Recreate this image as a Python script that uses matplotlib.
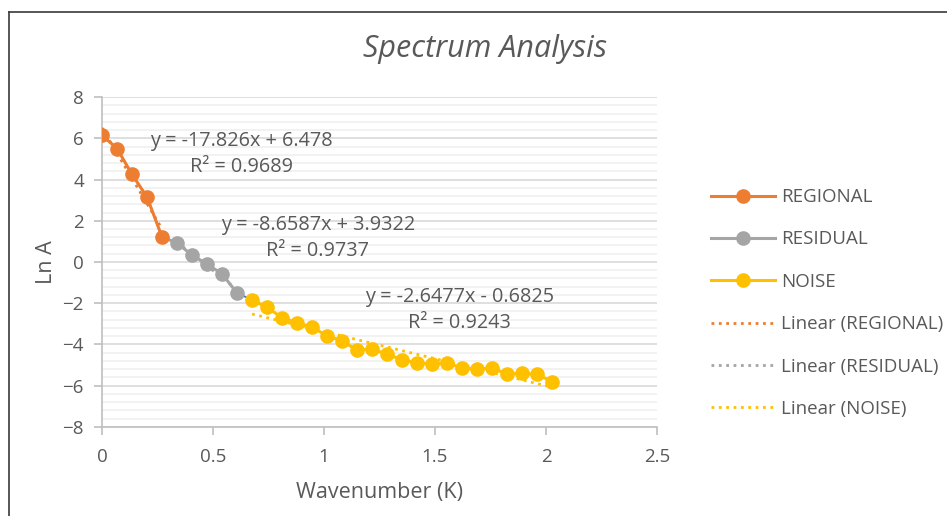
import numpy as np
import matplotlib
matplotlib.use("Agg")
import matplotlib.pyplot as plt
from matplotlib.lines import Line2D
from matplotlib.ticker import MultipleLocator

plt.rcParams['font.family'] = ['Open Sans', 'DejaVu Sans']

# data
x_regional = [0.0, 0.068, 0.135, 0.203, 0.27]
y_regional = [6.15, 5.5, 4.25, 3.15, 1.22]

x_residual = [0.338, 0.405, 0.473, 0.541, 0.608]
y_residual = [0.92, 0.34, -0.1, -0.58, -1.5]

x_noise = [0.676, 0.744, 0.811, 0.879, 0.946, 1.014, 1.082, 1.149, 1.217, 1.284,
           1.352, 1.42, 1.487, 1.555, 1.622, 1.69, 1.758, 1.825, 1.893, 1.96, 2.028]
y_noise = [-1.84, -2.2, -2.7, -2.95, -3.16, -3.58, -3.83, -4.27, -4.23, -4.46,
           -4.75, -4.89, -4.95, -4.89, -5.15, -5.18, -5.15, -5.43, -5.4, -5.45, -5.8]

eq_labels = ["y = -17.826x + 6.478\nR² = 0.9689",
             "y = -8.6587x + 3.9322\nR² = 0.9737",
             "y = -2.6477x - 0.6825\nR² = 0.9243"]

ORANGE = "#ED7D31"
GRAY = "#A5A5A5"
YELLOW = "#FFC000"
TXT = "#595959"

fig = plt.figure(figsize=(9.47, 5.16), dpi=100)
ax = fig.add_axes([0.1077, 0.1725, 0.586, 0.6395])

# chart border (cropped screenshot: only left and top visible)
fig.add_artist(Line2D([9 / 947, 9 / 947], [0, 1 - 12 / 516], transform=fig.transFigure,
                      color="#3a3a3a", lw=1.2))
fig.add_artist(Line2D([9 / 947, 1], [1 - 12 / 516, 1 - 12 / 516], transform=fig.transFigure,
                      color="#3a3a3a", lw=1.2))

# thin blue line joining all points (hidden under the series)
ax.plot(x_regional + x_residual + x_noise, y_regional + y_residual + y_noise,
        color="#4472C4", lw=1.2, zorder=2)

series = [("REGIONAL", x_regional, y_regional, ORANGE),
          ("RESIDUAL", x_residual, y_residual, GRAY),
          ("NOISE", x_noise, y_noise, YELLOW)]

handles = []
trend_handles = []
for name, xs, ys, c in series:
    if name == "RESIDUAL":
        xl = [x_regional[-1]] + xs
        yl = [y_regional[-1]] + ys
    else:
        xl, yl = xs, ys
    ax.plot(xl, yl, color=c, lw=2.2, zorder=3)
    ax.plot(xs, ys, 'o', color=c, ms=9.5, zorder=4)
    k, b = np.polyfit(xs, ys, 1)
    xx = np.array([xs[0], xs[-1]])
    ax.plot(xx, k * xx + b, ':', color=c, lw=2, zorder=5)
    handles.append(Line2D([], [], color=c, lw=2.2, marker='o', ms=9.5, label=name))
    trend_handles.append(Line2D([], [], color=c, lw=2, ls=':', label="Linear (%s)" % name))

ax.set_xlim(0, 2.5)
ax.set_ylim(-8, 8)
ax.yaxis.set_major_locator(MultipleLocator(2))
ax.yaxis.set_minor_locator(MultipleLocator(0.4))
ax.set_xticks([0, 0.5, 1, 1.5, 2, 2.5])
ax.set_xticklabels(["0", "0.5", "1", "1.5", "2", "2.5"])

ax.grid(axis='y', which='major', color="#D9D9D9", lw=1.2, zorder=0)
ax.grid(axis='y', which='minor', color="#F0F0F0", lw=1.2, zorder=0)
ax.set_axisbelow(True)
for s in ['top', 'right']:
    ax.spines[s].set_visible(False)
for s in ['left', 'bottom']:
    ax.spines[s].set_color("#BFBFBF")
    ax.spines[s].set_linewidth(1.2)
ax.tick_params(axis='both', which='major', colors="#BFBFBF", labelcolor=TXT,
               labelsize=13.5, length=6, width=1.2)
ax.tick_params(axis='y', which='minor', length=0)
ax.tick_params(axis='x', pad=9)
ax.tick_params(axis='y', pad=7)

ax.set_xlabel("Wavenumber (K)", fontsize=15.5, color=TXT, labelpad=12)
ax.set_ylabel("Ln A", fontsize=15.5, color=TXT, labelpad=4)
fig.text(485 / 947, 1 - 49 / 516, "Spectrum Analysis", fontsize=22, style='italic',
         color=TXT, ha='center', va='center')

# trendline equations
eq_pos = [(0.63, 5.26), (0.973, 1.16), (1.61, -2.33)]
for (ex, ey), lab in zip(eq_pos, eq_labels):
    ax.text(ex, ey, lab, fontsize=14.3, color=TXT, ha='center', va='center',
            linespacing=1.4, zorder=6)

leg = fig.legend(handles=handles + trend_handles, loc='center left',
                 bbox_to_anchor=(711 / 947, 1 - 303 / 516), frameon=False,
                 fontsize=13.5, labelcolor=TXT, handlelength=3.4, handletextpad=0.35,
                 labelspacing=1.3, borderaxespad=0, borderpad=0)

fig.savefig("out.png", dpi=100)
